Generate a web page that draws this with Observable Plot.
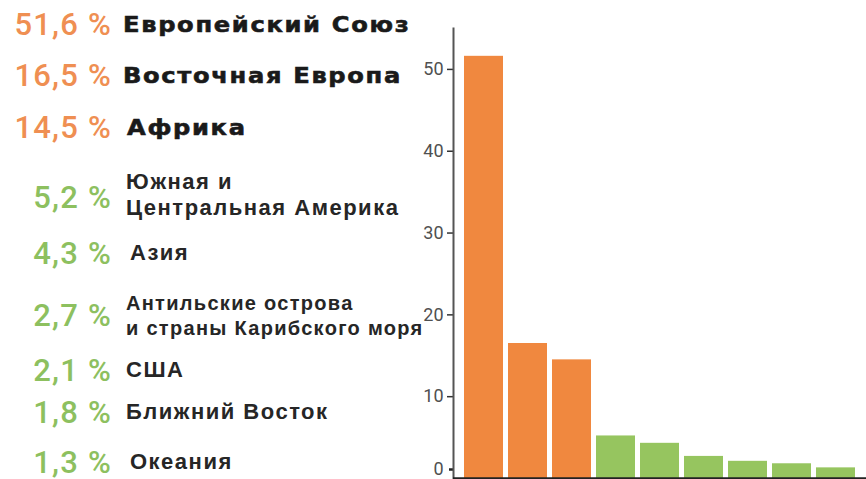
<!DOCTYPE html>
<html>
<head>
<meta charset="utf-8">
<script src="https://cdn.jsdelivr.net/npm/d3@7"></script>
<script src="https://cdn.jsdelivr.net/npm/@observablehq/plot@0.6"></script>
<style>
  body { margin: 0; background: #fff; }
  #wrap { position: relative; width: 866px; height: 479px; overflow: hidden; background: #fff; }
  #chart { position: absolute; left: 0; top: 0; }
  #list { position: absolute; left: 0; top: 0; width: 445px; height: 479px; }
  .row { position: absolute; left: 0; height: 50px; display: flex; align-items: center; white-space: nowrap; }
  .pct { width: 112px; text-align: right; font-family: Roboto, sans-serif; font-weight: 500; font-size: 31px; letter-spacing: 1.2px; line-height: 1; }
  .lbl { margin-left: 14px; color: #1e1e1e; }
  .big .lbl { font-family: "DejaVu Sans", sans-serif; font-weight: 900; font-size: 22px; letter-spacing: 1.5px; margin-left: 11px;
              transform: scaleX(1.1); transform-origin: left center; -webkit-text-stroke: 0.6px #1a1a1a; color: #1a1a1a; }
  .small .lbl { font-family: "Liberation Sans", Arial, sans-serif; font-weight: bold; font-size: 22px; letter-spacing: 1.5px; line-height: 26px; color: #262626; }
  .row.r3 .lbl { margin-left: 15px; }
  .row.r5 .lbl, .row.r9 .lbl { margin-left: 18px; }
  .row.r4 .lbl { margin-top: -5px; }
  .row.r6 .lbl { font-size: 20px; letter-spacing: 1.3px; line-height: 25px; margin-top: 2px; }
  .row.r1 { top: -1px; } .row.r2 { top: 50px; } .row.r3 { top: 102px; }
  .row.r4 { top: 172px; } .row.r5 { top: 228px; } .row.r6 { top: 290px; }
  .row.r7 { top: 345px; } .row.r8 { top: 387px; } .row.r9 { top: 437px; }
</style>
</head>
<body>
<div id="wrap">
  <div id="chart"></div>
  <div id="list"></div>
</div>
<script>
// Data
const regions = [
  "Европейский Союз",
  "Восточная Европа",
  "Африка",
  "Южная и\nЦентральная Америка",
  "Азия",
  "Антильские острова\nи страны Карибского моря",
  "США",
  "Ближний Восток",
  "Океания"
];
const shares = [51.6, 16.5, 14.5, 5.2, 4.3, 2.7, 2.1, 1.8, 1.3];
const groups = ["major", "major", "major", "minor", "minor", "minor", "minor", "minor", "minor"];
const yTicks = [10, 20, 30, 40, 50];
const yZeroTick = [0];

const colors = { major: "#f0883f", minor: "#96c55f" };
const textColors = { major: "#ef8f52", minor: "#8dc05f" };

const data = regions.map((r, i) => ({ region: r, share: shares[i], group: groups[i] }));

const chart = Plot.plot({
  width: 866,
  height: 479,
  marginLeft: 453,
  marginRight: 0,
  marginTop: 28,
  marginBottom: 1,
  style: { background: "transparent", fontFamily: "Roboto, sans-serif" },
  x: { domain: regions, paddingInner: 0.125, paddingOuter: 0.2, axis: null },
  y: { domain: [0, 55], axis: null },
  color: { domain: ["major", "minor"], range: [colors.major, colors.minor] },
  marks: [
    Plot.barY(data, { x: "region", y: "share", fill: "group" }),
    Plot.axisY(yTicks, { tickSize: 6, tickPadding: 4, fontSize: 18, fill: "#505050", stroke: "#333", strokeWidth: 1.5, label: null }),
    Plot.axisY(yZeroTick, { tickSize: 4, tickPadding: 6, fontSize: 18, fill: "#505050", stroke: "#222", strokeWidth: 2.5, dy: -9, label: null }),
    Plot.frame({ anchor: "left", stroke: "#555", strokeWidth: 2 }),
    Plot.ruleY(yZeroTick, { stroke: "#222", strokeWidth: 2.5 })
  ]
});
document.getElementById("chart").appendChild(chart);

// Left list
const list = d3.select("#list");
data.forEach((d, i) => {
  const lines = d.region.split("\n");
  const row = list.append("div")
    .attr("class", `row r${i + 1} ${d.group === "major" ? "big" : "small"} ${lines.length > 1 ? "two" : ""}`);
  row.append("div").attr("class", "pct")
    .style("color", textColors[d.group])
    .text(d.share.toFixed(1).replace(".", ",") + " %");
  const lbl = row.append("div").attr("class", "lbl");
  lines.forEach((l, j) => { if (j) lbl.append("br"); lbl.append("span").text(l); });
});
</script>
</body>
</html>
